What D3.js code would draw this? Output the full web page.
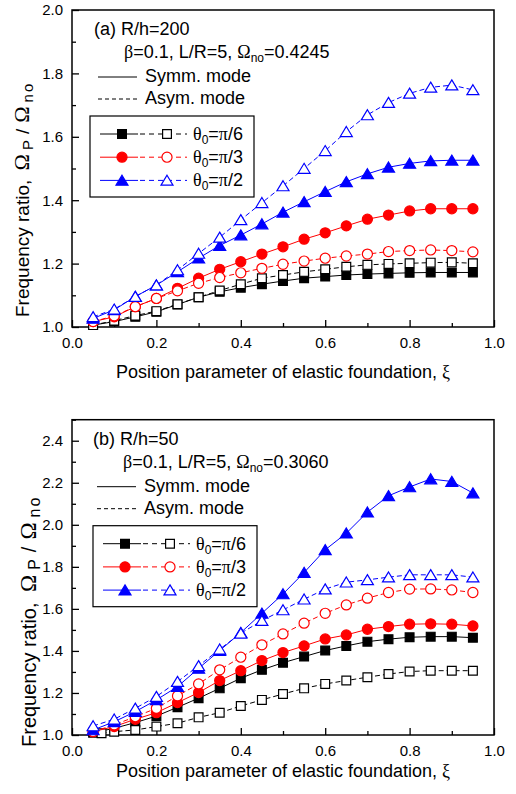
<!DOCTYPE html>
<html><head><meta charset="utf-8">
<script src="https://cdn.jsdelivr.net/npm/d3@7"></script>
<style>
body{margin:0;background:#fff}
text{font-family:"Liberation Sans",Arial,sans-serif;fill:#000}
</style>
</head><body>
<svg id="c" width="516" height="794"></svg>
<script>
// ---------------- data ----------------
const xi = [0.05,0.10,0.15,0.20,0.25,0.30,0.35,0.40,0.45,0.50,0.55,0.60,0.65,0.70,0.75,0.80,0.85,0.90,0.95];
const xiB_asym6 = [0.07,0.10,0.15,0.20,0.25,0.30,0.35,0.40,0.45,0.50,0.55,0.60,0.65,0.70,0.75,0.80,0.85,0.90,0.95];

// Panel (a) R/h=200
const aSymm6 = [1.006,1.017,1.032,1.048,1.071,1.094,1.111,1.124,1.135,1.145,1.154,1.159,1.164,1.167,1.169,1.171,1.172,1.172,1.172];
const aAsym6 = [1.006,1.020,1.036,1.050,1.072,1.094,1.115,1.135,1.154,1.164,1.174,1.182,1.190,1.196,1.199,1.201,1.203,1.204,1.201];
const aSymm3 = [1.017,1.032,1.064,1.090,1.122,1.154,1.182,1.206,1.230,1.253,1.277,1.297,1.319,1.340,1.353,1.366,1.373,1.373,1.373];
const aAsym3 = [1.017,1.035,1.064,1.090,1.114,1.138,1.156,1.171,1.185,1.198,1.208,1.217,1.224,1.230,1.238,1.241,1.243,1.241,1.237];
const aSymm2 = [1.027,1.054,1.096,1.132,1.174,1.217,1.257,1.290,1.325,1.362,1.395,1.427,1.458,1.483,1.504,1.516,1.524,1.526,1.526];
const aAsym2 = [1.032,1.056,1.096,1.132,1.180,1.232,1.283,1.338,1.392,1.445,1.500,1.556,1.616,1.669,1.708,1.737,1.756,1.763,1.748];

// Panel (b) R/h=50
const bSymm6 = [1.011,1.032,1.059,1.090,1.132,1.175,1.222,1.270,1.310,1.344,1.373,1.402,1.424,1.444,1.456,1.465,1.468,1.468,1.463];
const bAsym6 = [1.008,1.016,1.024,1.040,1.056,1.084,1.106,1.138,1.167,1.195,1.222,1.243,1.259,1.275,1.290,1.302,1.306,1.306,1.306];
const bSymm3 = [1.016,1.040,1.075,1.106,1.154,1.202,1.259,1.306,1.354,1.392,1.424,1.457,1.476,1.503,1.516,1.527,1.529,1.527,1.519];
const bAsym3 = [1.016,1.048,1.087,1.127,1.186,1.243,1.310,1.370,1.429,1.481,1.532,1.579,1.619,1.651,1.678,1.694,1.695,1.690,1.678];
const bSymm2 = [1.024,1.063,1.111,1.167,1.230,1.317,1.402,1.487,1.579,1.671,1.773,1.881,1.960,2.060,2.138,2.180,2.218,2.206,2.151];
const bAsym2 = [1.043,1.075,1.127,1.183,1.254,1.329,1.408,1.484,1.544,1.595,1.646,1.694,1.727,1.738,1.751,1.762,1.762,1.762,1.751];

const xMajor = [0,0.2,0.4,0.6,0.8,1.0];
const xMinor = [0.1,0.3,0.5,0.7,0.9];
const yMajorA = [1.0,1.2,1.4,1.6,1.8,2.0];
const yMinorA = [1.1,1.3,1.5,1.7,1.9];
const yMajorB = [1.0,1.2,1.4,1.6,1.8,2.0,2.2,2.4];
const yMinorB = [1.1,1.3,1.5,1.7,1.9,2.1,2.3,2.5];

const thetaLabels = ["π/6","π/3","π/2"];
const colors = ["#000000","#ff0000","#0000ff"];
const shapes = ["square","circle","triangle"];

// ---------------- drawing ----------------
const svg = d3.select("#c");
svg.append("rect").attr("width",516).attr("height",794).attr("fill","#fff");

function markerPath(shape){
  if(shape==="square") return "M-4.4,-4.4H4.4V4.4H-4.4Z";
  if(shape==="circle") return d3.symbol(d3.symbolCircle, 80)();
  return "M0,-5.2L6,4.8L-6,4.8Z";
}

// parts: [text, style, opts]; style n=normal, g=greek serif, s=subscript
function rich(g, x, y, parts, size){
  const t = g.append("text").attr("x",x).attr("y",y).attr("font-size",size);
  let off = 0;
  parts.forEach(([s, st, o])=>{
    o = o || {};
    const sp = t.append("tspan").text(s);
    if(st==="g"){ sp.style("font-family","'Liberation Serif','DejaVu Serif',serif"); }
    let dy = 0;
    if(st==="s"){
      sp.attr("font-size", o.fs || Math.round(size*0.66)); dy = 4 - off; off = 4;
    } else { dy = -off; off = 0; if(o.fs) sp.attr("font-size", o.fs); }
    if(dy) sp.attr("dy", dy);
    if(o.dx) sp.attr("dx", o.dx);
    if(o.ls) sp.attr("letter-spacing", o.ls);
  });
  return t;
}

function panel(cfg){
  const g = svg.append("g");
  const x = d3.scaleLinear().domain([0,1]).range([72,494]);
  const y = d3.scaleLinear().domain(cfg.yDomain).range([cfg.bottom, cfg.top]);

  const styleAxis = sel => {
    sel.select(".domain").remove();
    sel.selectAll("line").attr("stroke","#000").attr("stroke-width",1.3);
    sel.selectAll("text").attr("font-size",15).attr("font-family","'Liberation Sans',Arial,sans-serif").attr("fill","#000");
  };
  g.append("g").attr("transform",`translate(0,${cfg.bottom})`)
    .call(d3.axisBottom(x).tickValues(xMinor).tickSize(-4).tickFormat("")).call(styleAxis);
  g.append("g").attr("transform",`translate(0,${cfg.bottom})`)
    .call(d3.axisBottom(x).tickValues(xMajor).tickSize(-7).tickPadding(10).tickFormat(d3.format(".1f"))).call(styleAxis);
  g.append("g").attr("transform",`translate(72,0)`)
    .call(d3.axisLeft(y).tickValues(cfg.yMinor).tickSize(-4).tickFormat("")).call(styleAxis);
  g.append("g").attr("transform",`translate(72,0)`)
    .call(d3.axisLeft(y).tickValues(cfg.yMajor).tickSize(-7).tickPadding(9).tickFormat(d3.format(".1f"))).call(styleAxis);

  g.append("rect").attr("x",72).attr("y",cfg.top).attr("width",494-72).attr("height",cfg.bottom-cfg.top)
    .attr("fill","none").attr("stroke","#000").attr("stroke-width",1.5);

  // series
  const line = d3.line().x(d=>x(d[0])).y(d=>y(d[1]));
  cfg.series.forEach((s,i)=>{
    const ci = Math.floor(i/2), open = i%2===1;
    const pts = s.y.map((v,k)=>[s.x[k], v]);
    g.append("path").attr("d", line(pts)).attr("fill","none")
      .attr("stroke", colors[ci]).attr("stroke-width",1)
      .attr("stroke-dasharray", open ? "5,3" : null);
    g.selectAll(null).data(pts).enter().append("path")
      .attr("d", markerPath(shapes[ci]))
      .attr("transform", d=>`translate(${x(d[0])},${y(d[1])})`)
      .attr("fill", open ? "#fff" : colors[ci])
      .attr("stroke", colors[ci]).attr("stroke-width", 1.2);
  });

  // annotations
  const T = cfg.top;
  rich(g, cfg.tx, T+25, [[cfg.title,"n"]], 18);
  rich(g, cfg.tx+30, T+48, [["β","g"],["=0.1, L/R=5, ","n"],["Ω","g"],["no","s"],["="+cfg.omega,"n"]], 18);
  g.append("line").attr("x1",cfg.tx+4).attr("x2",cfg.tx+43).attr("y1",T+67).attr("y2",T+67).attr("stroke","#000").attr("stroke-width",1);
  rich(g, cfg.tx+51, T+72, [["Symm. mode","n"]], 18);
  g.append("line").attr("x1",cfg.tx+4).attr("x2",cfg.tx+43).attr("y1",T+89).attr("y2",T+89).attr("stroke","#000").attr("stroke-width",1).attr("stroke-dasharray","4,3");
  rich(g, cfg.tx+51, T+94, [["Asym. mode","n"]], 18);

  // legend box
  const lx = cfg.lx, ly = T+106;
  g.append("rect").attr("x",lx).attr("y",ly).attr("width",164).attr("height",81)
    .attr("fill","none").attr("stroke","#000").attr("stroke-width",1.2);
  thetaLabels.forEach((lab,ci)=>{
    const ry = ly + 18 + ci*23.2;
    g.append("line").attr("x1",lx+10).attr("x2",lx+48).attr("y1",ry).attr("y2",ry).attr("stroke",colors[ci]).attr("stroke-width",1);
    g.append("line").attr("x1",lx+50).attr("x2",lx+97).attr("y1",ry).attr("y2",ry).attr("stroke",colors[ci]).attr("stroke-width",1).attr("stroke-dasharray","5,4");
    g.append("path").attr("d",markerPath(shapes[ci])).attr("transform",`translate(${lx+32},${ry})`)
      .attr("fill",colors[ci]).attr("stroke",colors[ci]).attr("stroke-width",1.2);
    g.append("path").attr("d",markerPath(shapes[ci])).attr("transform",`translate(${lx+77},${ry})`)
      .attr("fill","#fff").attr("stroke",colors[ci]).attr("stroke-width",1.2);
    rich(g, lx+103, ry+6, [["θ","g"],["0","s"],["=","n"],["π","g"],[lab.slice(1),"n"]], 18);
  });

  // axis titles
  rich(g, 283, cfg.xtY, [["Position parameter of elastic foundation, ","n"],["ξ","g"]], 18)
    .attr("text-anchor","middle");
  const s = cfg.ytSize, k = cfg.ytGap;
  rich(g, 0, 0, [["Frequency ratio, ","n"],["Ω","g",{fs:s+3,dx:k}],["P","s",{fs:s-4,dx:k}],["/","n",{dx:k+2}],
                 ["Ω","g",{fs:s+3,dx:k+2}],["no","s",{fs:s-4,dx:k,ls:2}]], s)
    .attr("transform",`translate(${cfg.ytX},${cfg.ytY}) rotate(-90)`);
}

panel({
  top:10, bottom:327, yDomain:[1.0,2.0], yMajor:yMajorA, yMinor:yMinorA,
  title:"(a) R/h=200", omega:"0.4245", tx:94, lx:90, xtY:378, ytX:29, ytY:317, ytSize:19, ytGap:4,
  series:[{x:xi,y:aSymm6},{x:xi,y:aAsym6},{x:xi,y:aSymm3},{x:xi,y:aAsym3},{x:xi,y:aSymm2},{x:xi,y:aAsym2}]
});
panel({
  top:419.7, bottom:735, yDomain:[1.0,2.5], yMajor:yMajorB, yMinor:yMinorB,
  title:"(b) R/h=50", omega:"0.3060", tx:93, lx:93, xtY:777, ytX:36, ytY:747, ytSize:20, ytGap:5,
  series:[{x:xi,y:bSymm6},{x:xiB_asym6,y:bAsym6},{x:xi,y:bSymm3},{x:xi,y:bAsym3},{x:xi,y:bSymm2},{x:xi,y:bAsym2}]
});
</script>
</body></html>
